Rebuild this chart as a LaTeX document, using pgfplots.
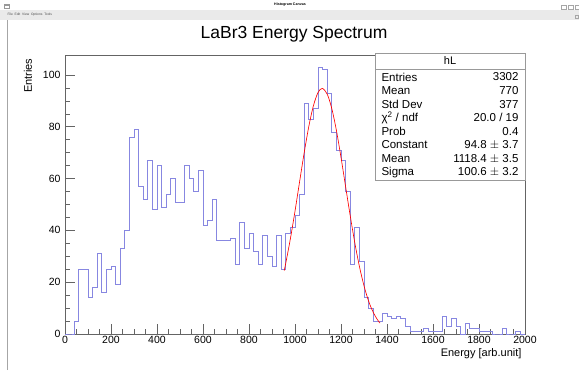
\documentclass[border=0pt]{standalone}
\usepackage{pgfplots}
\pgfplotsset{compat=1.18}
\usepackage{pgfplotstable}
\usepackage{fontspec}
\setmainfont{Liberation Sans}
\definecolor{histcol}{RGB}{135,135,225}
\definecolor{framecol}{RGB}{100,100,100}
\definecolor{menubg}{RGB}{234,234,234}
\pgfplotstableread{
x y
0 0
20 0
40 5
60 25
80 25
100 14
120 18
140 31
160 16
180 25
200 26
220 19
240 33
260 40
280 76
300 79
320 57
340 52
360 67
380 48
400 65
420 49
440 54
460 60
480 51
500 51
520 65
540 60
560 55
580 63
600 42
620 44
640 52
660 36
680 36
700 36
720 37
740 27
760 43
780 33
800 39
820 32
840 27
860 38
880 30
900 26
920 38
940 25
960 39
980 41
1000 46
1020 54
1040 89
1060 83
1080 87
1100 103
1120 102
1140 93
1160 78
1180 71
1200 67
1220 55
1240 27
1260 41
1280 28
1300 14
1320 10
1340 5
1360 5
1380 8
1400 7
1420 6
1440 7
1460 6
1480 3
1500 1
1520 1
1540 1
1560 2
1580 1
1600 1
1620 1
1640 7
1660 3
1680 6
1700 3
1720 0
1740 4
1760 2
1780 2
1800 1
1820 1
1840 1
1860 0
1880 0
1900 2
1920 0
1940 0
1960 1
1980 0
2000 0
}\histdata
\pgfplotstableread{
x y
953 24.5
960 27.4
980 36.8
1000 47.4
1020 58.8
1040 70.0
1060 80.1
1080 88.1
1100 93.2
1118.4 94.8
1140 92.6
1160 87.0
1180 78.6
1200 68.2
1220 56.9
1240 45.7
1260 35.2
1280 26.1
1300 18.6
1320 12.7
1340 8.4
1360 5.3
1370 4.2
}\fitdata
\begin{document}
\begin{tikzpicture}[x=1pt,y=1pt]
\path[use as bounding box] (0,0) rectangle (579,370);
\fill[white] (0,0) rectangle (579,370);
% window chrome
\fill[menubg] (0,350) rectangle (579,360);
\draw[gray!70,line width=0.6pt] (7,0) -- (7,350);
\draw[gray!80,line width=0.5pt] (4.5,361.5) rectangle (9.5,365.5);
\draw[gray!80,line width=0.5pt] (4.5,364.5) -- (9.5,364.5);
\node[font=\fontsize{3.6}{4}\selectfont\bfseries] at (290,365.5) {Histogram Canvas};
\node[font=\fontsize{3.3}{4}\selectfont, anchor=west, gray!60!black] at (4,355) {File\ \ Edit\ \ View\ \ Options\ \ Tools};
\draw[gray!70,line width=0.4pt] (561,361) rectangle (566,365);
\draw[gray!70,line width=0.4pt] (568,361) rectangle (573,365);
\draw[gray!70,line width=0.4pt] (575,361) rectangle (579,365);
\draw[gray!70,line width=0.4pt] (575,352) rectangle (578,355);
% title
\node[font=\fontsize{17.5}{20}\selectfont] at (294,336) {LaBr3 Energy Spectrum};
\begin{axis}[
  at={(65pt,36pt)}, anchor=south west,
  width=460pt, height=279pt, scale only axis,
  xmin=0, xmax=2000, ymin=0, ymax=107.7,
  axis line style={framecol, line width=0.7pt},
  xtick={0,200,...,2000}, ytick={0,20,...,100},
  minor x tick num=3, minor y tick num=3,
  xtick pos=lower, ytick pos=left,
  tick align=inside,
  major tick length=10pt, minor tick length=5pt,
  every tick/.style={framecol, line width=0.6pt},
  tick label style={font=\fontsize{10.5}{12}\selectfont},
  /pgf/number format/assume math mode=true,
  /pgf/number format/1000 sep={},
  xticklabel style={yshift=1pt},
  yticklabel style={xshift=-1pt},
  clip=false,
]
\addplot[histcol, line width=0.65pt, const plot mark left] table[x=x,y=y] {\histdata};
\addplot[red, line width=0.65pt, smooth] table[x=x,y=y] {\fitdata};
\end{axis}
% axis titles
\node[font=\fontsize{11}{13}\selectfont, anchor=east] at (525,16) {Energy [arb.unit]};
\node[font=\fontsize{11}{13}\selectfont, rotate=90, anchor=east] at (28,315) {Entries};
% stats box
\filldraw[fill=white, draw=gray!80, line width=0.7pt] (375,190) rectangle (525,317);
\draw[gray!80, line width=0.6pt] (375,301) -- (525,301);
\node[font=\fontsize{11}{12}\selectfont] at (450,309) {hL};
\foreach \l/\v [count=\k from 0] in {Entries/3302, Mean/770, Std Dev/377, {\char"03C7\textsuperscript{2} / ndf}/{20.0 / 19}, Prob/0.4, Constant/{94.8 $\pm$ 3.7}, Mean/{1118.4 $\pm$ 3.5}, Sigma/{100.6 $\pm$ 3.2}} {
  \node[font=\fontsize{11.5}{12}\selectfont, anchor=west] at (378,{293-13.6*\k}) {\l};
  \node[font=\fontsize{11.5}{12}\selectfont, anchor=east] at (522,{293-13.6*\k}) {\v};
}
\end{tikzpicture}
\end{document}
